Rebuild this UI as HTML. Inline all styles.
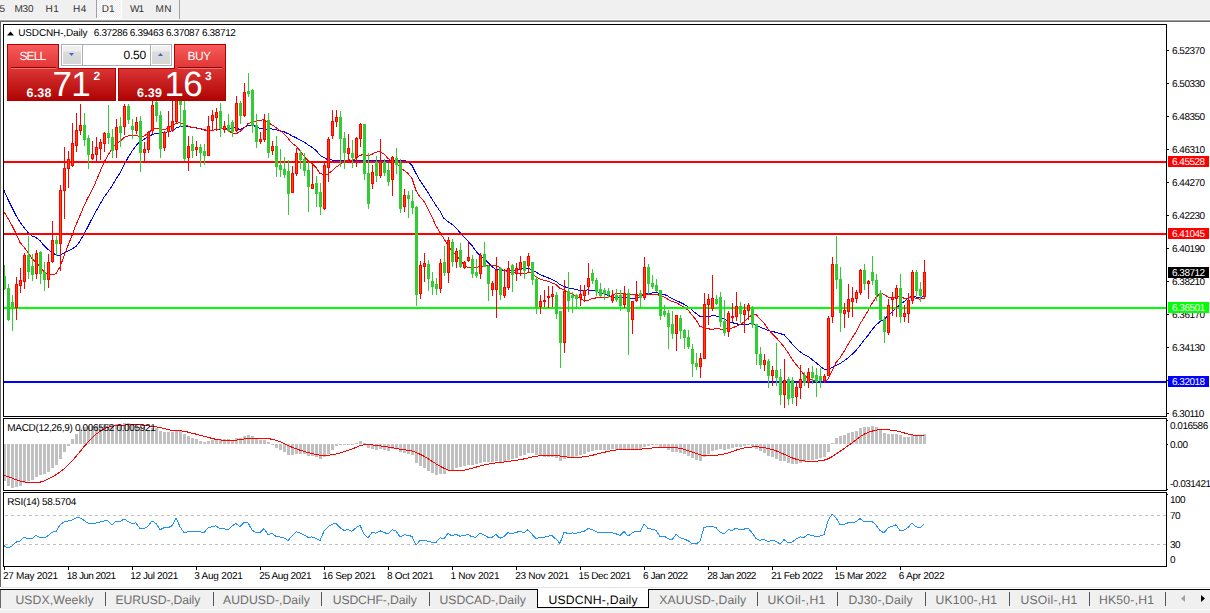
<!DOCTYPE html>
<html><head><meta charset="utf-8"><style>
html,body{margin:0;padding:0;}
body{width:1210px;height:613px;overflow:hidden;background:#fff;position:relative;font-family:"Liberation Sans",sans-serif;}
.t{position:absolute;white-space:nowrap;line-height:1;text-rendering:geometricPrecision;}
</style></head><body>
<div style="position:absolute;left:0px;top:0px;width:1210px;height:19px;background:#f0f0f0;"></div>
<div style="position:absolute;left:0px;top:19px;width:1210px;height:1px;background:#f7f7f7;"></div>
<div style="position:absolute;left:0px;top:20px;width:1210px;height:1px;background:#a0a0a0;"></div>
<div style="position:absolute;left:0px;top:21px;width:1210px;height:1px;background:#696969;"></div>
<div style="position:absolute;left:97px;top:0px;width:24px;height:18px;background:repeating-conic-gradient(#ffffff 0 25%, #ececec 0 50%) 0 0/2px 2px;"></div>
<div style="position:absolute;left:121px;top:0px;width:1px;height:19px;background:#ffffff;"></div>
<div style="position:absolute;left:97px;top:18px;width:25px;height:1px;background:#ffffff;"></div>
<div style="position:absolute;left:96px;top:0px;width:1px;height:18px;background:#a0a0a0;"></div>
<div style="position:absolute;left:179px;top:0px;width:1px;height:19px;background:#a0a0a0;"></div>
<div class="t" style="left:-0.5px;top:4.54px;font-size:10px;color:#333;letter-spacing:0px;">5</div>
<div class="t" style="left:14.5px;top:4.54px;font-size:10px;color:#333;letter-spacing:-0.25px;">M30</div>
<div class="t" style="left:45.5px;top:4.54px;font-size:10px;color:#333;letter-spacing:0.5px;">H1</div>
<div class="t" style="left:73px;top:4.54px;font-size:10px;color:#333;letter-spacing:0.5px;">H4</div>
<div class="t" style="left:101.8px;top:4.54px;font-size:10px;color:#333;letter-spacing:0.1px;">D1</div>
<div class="t" style="left:130px;top:4.54px;font-size:10px;color:#333;letter-spacing:-1px;">W1</div>
<div class="t" style="left:155.5px;top:4.54px;font-size:10px;color:#333;letter-spacing:0.5px;">MN</div>
<div style="position:absolute;left:0px;top:21px;width:1px;height:566px;background:#696969;"></div>
<svg style="position:absolute;left:0;top:0" width="1210" height="613" shape-rendering="crispEdges"><defs><clipPath id="cm"><rect x="4" y="25" width="1162" height="391"/></clipPath><clipPath id="cd"><rect x="4" y="419" width="1162" height="70"/></clipPath><clipPath id="cr"><rect x="4" y="493" width="1162" height="73"/></clipPath></defs><g clip-path="url(#cm)"><polyline points="4,190.5 8,199.5 12,207.5 16,215.5 20,222.3 24,227.5 28,232.5 32,235.9 36,237.5 40,240.5 44,245.7 48,249.5 52,252.3 56,255 60,255 64,253.3 68,251 72,249 76,246.5 80,241 84,234 88,226.55 92,218.69 96,211.12 100,204.36 104,197.36 108,191.74 112,185.98 116,178.98 120,173.21 124,165.26 128,157.64 132,151.31 136,145.69 140,141.36 144,139.4 148,136.63 152,134.74 156,133.47 160,133 164,132.6 168,131.9 172,130.74 176,128.17 180,126.46 184,126.29 188,126.58 192,127.14 196,127.76 200,128.59 204,129.97 208,130.4 212,130.2 216,129.7 220,129.19 224,128.68 228,128.3 232,128.3 236,127.45 240,129.98 244,127.31 248,125.45 252,125.4 256,126.36 260,128.5 264,129.26 268,128.98 272,128.98 276,129.74 280,130.79 284,131.83 288,133.64 292,135.88 296,137.69 300,139.93 304,141.93 308,144.79 312,147.36 316,150.31 320,155.21 324,157.6 328,159.83 332,160 336,160 340,160 344,160 348,160 352,160 356,160 360,160 364,160 368,160 372,160 376,160 380,160 384,160 388,160 392,160 396,160 400,160 404,160 408,162.07 412,165.31 416,173.55 420,180.6 424,186.55 428,192.55 432,199.12 436,205.36 440,211.31 444,218.36 448,221.55 452,224.31 456,228.07 460,232.4 464,237.21 468,241.26 472,245.64 476,251.26 480,255.6 484,258.36 488,262.55 492,266.6 496,269.6 500,269.6 504,270.64 508,270.88 512,270.69 516,269.83 520,268.6 524,268.93 528,268.17 532,270.02 536,272.17 540,274.55 544,276.17 548,277.79 552,279.55 556,281.45 560,284.64 564,286.36 568,287.98 572,288.64 576,289.36 580,290.5 584,290.31 588,289.88 592,290.45 596,291.26 600,292.55 604,294.02 608,295.17 612,297.02 616,297.98 620,297.93 624,297.55 628,298.07 632,298.31 636,298.36 640,297.6 644,294.02 648,293.64 652,292.98 656,292.64 660,293.45 664,294.4 668,296.12 672,298.74 676,300.4 680,302.26 684,304.26 688,306.79 692,310.07 696,313.45 700,316.26 704,316.21 708,316.5 712,315.88 716,315.98 720,317.21 724,318.88 728,321.07 732,322.64 736,323.6 740,324.69 744,324.45 748,324.02 752,323.93 756,324.88 760,327.21 764,328.64 768,330.45 772,331.6 776,332.26 780,333.6 784,334.64 788,339.12 792,343.79 796,348.02 800,351.64 804,354.55 808,356.45 812,359.5 816,362.6 820,366.12 824,369.12 828,369.5 832,367.55 836,365.4 840,363.45 844,360.88 848,357.98 852,354.31 856,350.6 860,345.5 864,340.21 868,335.5 872,329.88 876,324.98 880,321.74 884,319.45 888,315.79 892,312.21 896,307.98 900,304.88 904,301.69 908,298.07 912,295.88 916,297.12 920,297.88 924,295.98" fill="none" stroke="#0000ff" stroke-width="1"/>
<polyline points="4,212 8,218.5 12,225.5 16,233.5 20,242.38 24,247.03 28,252.7 32,258.39 36,262.24 40,267.01 44,271.58 48,274.16 52,274.34 56,273.86 60,266.86 64,256.07 68,245.57 72,235.5 76,224.79 80,215.5 84,206.07 88,197.5 92,190.43 96,181.43 100,171.64 104,162.43 108,155.07 112,148.43 116,143.93 120,141.36 124,137.57 128,135.86 132,135.79 136,135.57 140,136.5 144,136.14 148,133.1 152,129.86 156,128.43 160,129.27 164,129.4 168,128.51 172,125.63 176,123.3 180,122.7 184,124.05 188,126.08 192,127.53 196,128 200,128.5 204,129.65 208,130.57 212,130.38 216,129.47 220,128.85 224,128.34 228,130.28 232,132.94 236,133.83 240,131.64 244,127.79 248,123.71 252,122.14 256,121.36 260,120.21 264,119.79 268,122.43 272,124.86 276,127.57 280,130.64 284,133.79 288,138.21 292,143.21 296,145.93 300,150.71 304,156.21 308,160.57 312,163.64 316,167.5 320,173.64 324,174.57 328,174.07 332,170.86 336,167.14 340,164.57 344,161.64 348,159.86 352,160.14 356,158.64 360,155.36 364,154.43 368,155.79 372,154.29 376,152.07 380,151.79 384,154.14 388,158.43 392,161.29 396,163.14 400,167.14 404,170.5 408,173.43 412,178.36 416,190.5 420,197.07 424,201.36 428,208.93 432,216.86 436,225.93 440,232.43 444,238.93 448,244.86 452,251.79 456,254.86 460,259.93 464,264.5 468,268.07 472,266.57 476,267.29 480,266.71 484,265.86 488,265.64 492,265.29 496,265.79 500,267.36 504,270.71 508,271.21 512,272.86 516,273 520,273 524,273.93 528,272.71 532,273 536,276.64 540,279.14 544,280.36 548,281.29 552,283 556,284.36 560,288.29 564,289.93 568,291.79 572,293.86 576,296.43 580,298.14 584,300.57 588,300.5 592,298.64 596,297.93 600,297.57 604,297.36 608,297.36 612,296.07 616,293 620,294 624,293.5 628,294.5 632,294.71 636,294.79 640,295.29 644,294.5 648,294.71 652,294.36 656,294 660,295.57 664,297 668,299.21 672,301.64 676,302.36 680,305 684,306.86 688,310.07 692,314.93 696,319.86 700,326.36 704,327.86 708,328.79 712,329.36 716,328.5 720,329 724,329.43 728,328 732,328.07 736,326.36 740,324.64 744,322.07 748,317.93 752,314.93 756,314.57 760,318.86 764,323.21 768,328.71 772,333.5 776,337.5 780,341.93 784,346.71 788,352.57 792,359.07 796,364.36 800,369.29 804,374.79 808,378.21 812,379.93 816,381.14 820,382.57 824,382.64 828,378.93 832,370.86 836,362.64 840,357.79 844,351.5 848,344.5 852,338.14 856,331.93 860,323.93 864,317.57 868,310.71 872,303.5 876,297.36 880,293.29 884,294.21 888,297.14 892,298.43 896,296.71 900,297.14 904,298.14 908,298.29 912,296.86 916,298.29 920,299.14 924,298.5" fill="none" stroke="#ff0000" stroke-width="1"/>
<rect x="4" y="161" width="1162" height="2" fill="#ff0000"/>
<rect x="4" y="233" width="1162" height="2" fill="#ff0000"/>
<rect x="4" y="307" width="1162" height="2" fill="#00ff00"/>
<rect x="4" y="381" width="1162" height="2" fill="#0000ff"/>
<rect x="4" y="265" width="1" height="25" fill="#32cd32"/>
<rect x="3" y="276" width="3" height="13" fill="#32cd32"/>
<rect x="8" y="284" width="1" height="37" fill="#32cd32"/>
<rect x="7" y="288" width="3" height="32" fill="#32cd32"/>
<rect x="12" y="295" width="1" height="36" fill="#32cd32"/>
<rect x="11" y="302" width="3" height="5" fill="#32cd32"/>
<rect x="16" y="277" width="1" height="43" fill="#ff0000"/>
<rect x="15" y="284" width="3" height="24" fill="#ff0000"/>
<rect x="16" y="285" width="1" height="22" fill="#ff4500"/>
<rect x="20" y="268" width="1" height="25" fill="#ff0000"/>
<rect x="19" y="280" width="3" height="6" fill="#ff0000"/>
<rect x="20" y="281" width="1" height="4" fill="#ff4500"/>
<rect x="24" y="253" width="1" height="36" fill="#ff0000"/>
<rect x="23" y="255" width="3" height="27" fill="#ff0000"/>
<rect x="24" y="256" width="1" height="25" fill="#ff4500"/>
<rect x="28" y="236" width="1" height="43" fill="#32cd32"/>
<rect x="27" y="255" width="3" height="17" fill="#32cd32"/>
<rect x="32" y="254" width="1" height="27" fill="#32cd32"/>
<rect x="31" y="266" width="3" height="9" fill="#32cd32"/>
<rect x="36" y="250" width="1" height="29" fill="#ff0000"/>
<rect x="35" y="253" width="3" height="21" fill="#ff0000"/>
<rect x="36" y="254" width="1" height="19" fill="#ff4500"/>
<rect x="40" y="251" width="1" height="33" fill="#32cd32"/>
<rect x="39" y="252" width="3" height="22" fill="#32cd32"/>
<rect x="44" y="262" width="1" height="29" fill="#32cd32"/>
<rect x="43" y="272" width="3" height="8" fill="#32cd32"/>
<rect x="48" y="254" width="1" height="34" fill="#ff0000"/>
<rect x="47" y="262" width="3" height="18" fill="#ff0000"/>
<rect x="48" y="263" width="1" height="16" fill="#ff4500"/>
<rect x="52" y="221" width="1" height="42" fill="#ff0000"/>
<rect x="51" y="240" width="3" height="22" fill="#ff0000"/>
<rect x="52" y="241" width="1" height="20" fill="#ff4500"/>
<rect x="56" y="236" width="1" height="20" fill="#32cd32"/>
<rect x="55" y="240" width="3" height="4" fill="#32cd32"/>
<rect x="60" y="185" width="1" height="86" fill="#ff0000"/>
<rect x="59" y="190" width="3" height="54" fill="#ff0000"/>
<rect x="60" y="191" width="1" height="52" fill="#ff4500"/>
<rect x="64" y="147" width="1" height="72" fill="#ff0000"/>
<rect x="63" y="168" width="3" height="23" fill="#ff0000"/>
<rect x="64" y="169" width="1" height="21" fill="#ff4500"/>
<rect x="68" y="151" width="1" height="37" fill="#ff0000"/>
<rect x="67" y="159" width="3" height="10" fill="#ff0000"/>
<rect x="68" y="160" width="1" height="8" fill="#ff4500"/>
<rect x="72" y="123" width="1" height="44" fill="#ff0000"/>
<rect x="71" y="143" width="3" height="23" fill="#ff0000"/>
<rect x="72" y="144" width="1" height="21" fill="#ff4500"/>
<rect x="76" y="113" width="1" height="39" fill="#ff0000"/>
<rect x="75" y="130" width="3" height="16" fill="#ff0000"/>
<rect x="76" y="131" width="1" height="14" fill="#ff4500"/>
<rect x="80" y="104" width="1" height="31" fill="#ff0000"/>
<rect x="79" y="125" width="3" height="6" fill="#ff0000"/>
<rect x="80" y="126" width="1" height="4" fill="#ff4500"/>
<rect x="84" y="113" width="1" height="33" fill="#32cd32"/>
<rect x="83" y="125" width="3" height="15" fill="#32cd32"/>
<rect x="88" y="135" width="1" height="34" fill="#32cd32"/>
<rect x="87" y="138" width="3" height="17" fill="#32cd32"/>
<rect x="92" y="141" width="1" height="19" fill="#ff0000"/>
<rect x="91" y="154" width="3" height="5" fill="#ff0000"/>
<rect x="92" y="155" width="1" height="3" fill="#ff4500"/>
<rect x="96" y="137" width="1" height="25" fill="#ff0000"/>
<rect x="95" y="147" width="3" height="8" fill="#ff0000"/>
<rect x="96" y="148" width="1" height="6" fill="#ff4500"/>
<rect x="100" y="139" width="1" height="21" fill="#ff0000"/>
<rect x="99" y="142" width="3" height="7" fill="#ff0000"/>
<rect x="100" y="143" width="1" height="5" fill="#ff4500"/>
<rect x="104" y="132" width="1" height="20" fill="#ff0000"/>
<rect x="103" y="133" width="3" height="11" fill="#ff0000"/>
<rect x="104" y="134" width="1" height="9" fill="#ff4500"/>
<rect x="108" y="105" width="1" height="39" fill="#32cd32"/>
<rect x="107" y="133" width="3" height="5" fill="#32cd32"/>
<rect x="112" y="129" width="1" height="29" fill="#32cd32"/>
<rect x="111" y="137" width="3" height="14" fill="#32cd32"/>
<rect x="116" y="119" width="1" height="39" fill="#ff0000"/>
<rect x="115" y="127" width="3" height="23" fill="#ff0000"/>
<rect x="116" y="128" width="1" height="21" fill="#ff4500"/>
<rect x="120" y="117" width="1" height="30" fill="#32cd32"/>
<rect x="119" y="126" width="3" height="7" fill="#32cd32"/>
<rect x="124" y="104" width="1" height="31" fill="#ff0000"/>
<rect x="123" y="106" width="3" height="21" fill="#ff0000"/>
<rect x="124" y="107" width="1" height="19" fill="#ff4500"/>
<rect x="128" y="104" width="1" height="20" fill="#32cd32"/>
<rect x="127" y="106" width="3" height="14" fill="#32cd32"/>
<rect x="132" y="119" width="1" height="20" fill="#32cd32"/>
<rect x="131" y="126" width="3" height="4" fill="#32cd32"/>
<rect x="136" y="117" width="1" height="17" fill="#ff0000"/>
<rect x="135" y="122" width="3" height="9" fill="#ff0000"/>
<rect x="136" y="123" width="1" height="7" fill="#ff4500"/>
<rect x="140" y="116" width="1" height="56" fill="#32cd32"/>
<rect x="139" y="121" width="3" height="32" fill="#32cd32"/>
<rect x="144" y="142" width="1" height="19" fill="#ff0000"/>
<rect x="143" y="149" width="3" height="4" fill="#ff0000"/>
<rect x="144" y="150" width="1" height="2" fill="#ff4500"/>
<rect x="148" y="131" width="1" height="22" fill="#ff0000"/>
<rect x="147" y="132" width="3" height="18" fill="#ff0000"/>
<rect x="148" y="133" width="1" height="16" fill="#ff4500"/>
<rect x="152" y="100" width="1" height="34" fill="#ff0000"/>
<rect x="151" y="105" width="3" height="26" fill="#ff0000"/>
<rect x="152" y="106" width="1" height="24" fill="#ff4500"/>
<rect x="156" y="98" width="1" height="24" fill="#32cd32"/>
<rect x="155" y="102" width="3" height="14" fill="#32cd32"/>
<rect x="160" y="111" width="1" height="47" fill="#32cd32"/>
<rect x="159" y="115" width="3" height="34" fill="#32cd32"/>
<rect x="164" y="131" width="1" height="20" fill="#ff0000"/>
<rect x="163" y="132" width="3" height="16" fill="#ff0000"/>
<rect x="164" y="133" width="1" height="14" fill="#ff4500"/>
<rect x="168" y="111" width="1" height="26" fill="#ff0000"/>
<rect x="167" y="126" width="3" height="6" fill="#ff0000"/>
<rect x="168" y="127" width="1" height="4" fill="#ff4500"/>
<rect x="172" y="100" width="1" height="32" fill="#ff0000"/>
<rect x="171" y="121" width="3" height="10" fill="#ff0000"/>
<rect x="172" y="122" width="1" height="8" fill="#ff4500"/>
<rect x="176" y="92" width="1" height="31" fill="#ff0000"/>
<rect x="175" y="94" width="3" height="28" fill="#ff0000"/>
<rect x="176" y="95" width="1" height="26" fill="#ff4500"/>
<rect x="180" y="90" width="1" height="37" fill="#32cd32"/>
<rect x="179" y="94" width="3" height="11" fill="#32cd32"/>
<rect x="184" y="100" width="1" height="61" fill="#32cd32"/>
<rect x="183" y="110" width="3" height="49" fill="#32cd32"/>
<rect x="188" y="136" width="1" height="35" fill="#ff0000"/>
<rect x="187" y="146" width="3" height="12" fill="#ff0000"/>
<rect x="188" y="147" width="1" height="10" fill="#ff4500"/>
<rect x="192" y="136" width="1" height="22" fill="#32cd32"/>
<rect x="191" y="144" width="3" height="7" fill="#32cd32"/>
<rect x="196" y="141" width="1" height="15" fill="#ff0000"/>
<rect x="195" y="147" width="3" height="3" fill="#ff0000"/>
<rect x="196" y="148" width="1" height="1" fill="#ff4500"/>
<rect x="200" y="144" width="1" height="23" fill="#32cd32"/>
<rect x="199" y="147" width="3" height="6" fill="#32cd32"/>
<rect x="204" y="144" width="1" height="21" fill="#32cd32"/>
<rect x="203" y="151" width="3" height="5" fill="#32cd32"/>
<rect x="208" y="116" width="1" height="40" fill="#ff0000"/>
<rect x="207" y="126" width="3" height="30" fill="#ff0000"/>
<rect x="208" y="127" width="1" height="28" fill="#ff4500"/>
<rect x="212" y="110" width="1" height="21" fill="#ff0000"/>
<rect x="211" y="115" width="3" height="6" fill="#ff0000"/>
<rect x="212" y="116" width="1" height="4" fill="#ff4500"/>
<rect x="216" y="108" width="1" height="23" fill="#ff0000"/>
<rect x="215" y="112" width="3" height="6" fill="#ff0000"/>
<rect x="216" y="113" width="1" height="4" fill="#ff4500"/>
<rect x="220" y="103" width="1" height="34" fill="#32cd32"/>
<rect x="219" y="111" width="3" height="18" fill="#32cd32"/>
<rect x="224" y="121" width="1" height="12" fill="#ff0000"/>
<rect x="223" y="126" width="3" height="4" fill="#ff0000"/>
<rect x="224" y="127" width="1" height="2" fill="#ff4500"/>
<rect x="228" y="114" width="1" height="18" fill="#32cd32"/>
<rect x="227" y="125" width="3" height="6" fill="#32cd32"/>
<rect x="232" y="120" width="1" height="17" fill="#32cd32"/>
<rect x="231" y="122" width="3" height="10" fill="#32cd32"/>
<rect x="236" y="96" width="1" height="36" fill="#ff0000"/>
<rect x="235" y="103" width="3" height="28" fill="#ff0000"/>
<rect x="236" y="104" width="1" height="26" fill="#ff4500"/>
<rect x="240" y="101" width="1" height="23" fill="#32cd32"/>
<rect x="239" y="103" width="3" height="13" fill="#32cd32"/>
<rect x="244" y="83" width="1" height="34" fill="#ff0000"/>
<rect x="243" y="92" width="3" height="24" fill="#ff0000"/>
<rect x="244" y="93" width="1" height="22" fill="#ff4500"/>
<rect x="248" y="73" width="1" height="24" fill="#32cd32"/>
<rect x="247" y="91" width="3" height="3" fill="#32cd32"/>
<rect x="252" y="89" width="1" height="44" fill="#32cd32"/>
<rect x="251" y="90" width="3" height="36" fill="#32cd32"/>
<rect x="256" y="114" width="1" height="34" fill="#32cd32"/>
<rect x="255" y="125" width="3" height="17" fill="#32cd32"/>
<rect x="260" y="132" width="1" height="12" fill="#ff0000"/>
<rect x="259" y="139" width="3" height="3" fill="#ff0000"/>
<rect x="260" y="140" width="1" height="1" fill="#ff4500"/>
<rect x="264" y="114" width="1" height="28" fill="#ff0000"/>
<rect x="263" y="120" width="3" height="20" fill="#ff0000"/>
<rect x="264" y="121" width="1" height="18" fill="#ff4500"/>
<rect x="268" y="113" width="1" height="45" fill="#32cd32"/>
<rect x="267" y="120" width="3" height="33" fill="#32cd32"/>
<rect x="272" y="141" width="1" height="14" fill="#ff0000"/>
<rect x="271" y="146" width="3" height="5" fill="#ff0000"/>
<rect x="272" y="147" width="1" height="3" fill="#ff4500"/>
<rect x="276" y="136" width="1" height="41" fill="#32cd32"/>
<rect x="275" y="146" width="3" height="21" fill="#32cd32"/>
<rect x="280" y="149" width="1" height="28" fill="#32cd32"/>
<rect x="279" y="165" width="3" height="5" fill="#32cd32"/>
<rect x="284" y="157" width="1" height="21" fill="#32cd32"/>
<rect x="283" y="169" width="3" height="6" fill="#32cd32"/>
<rect x="288" y="160" width="1" height="55" fill="#32cd32"/>
<rect x="287" y="171" width="3" height="23" fill="#32cd32"/>
<rect x="292" y="166" width="1" height="27" fill="#ff0000"/>
<rect x="291" y="173" width="3" height="20" fill="#ff0000"/>
<rect x="292" y="174" width="1" height="18" fill="#ff4500"/>
<rect x="296" y="148" width="1" height="28" fill="#ff0000"/>
<rect x="295" y="153" width="3" height="21" fill="#ff0000"/>
<rect x="296" y="154" width="1" height="19" fill="#ff4500"/>
<rect x="300" y="150" width="1" height="19" fill="#32cd32"/>
<rect x="299" y="153" width="3" height="7" fill="#32cd32"/>
<rect x="304" y="153" width="1" height="23" fill="#32cd32"/>
<rect x="303" y="159" width="3" height="12" fill="#32cd32"/>
<rect x="308" y="162" width="1" height="50" fill="#32cd32"/>
<rect x="307" y="170" width="3" height="17" fill="#32cd32"/>
<rect x="312" y="165" width="1" height="24" fill="#ff0000"/>
<rect x="311" y="184" width="3" height="5" fill="#ff0000"/>
<rect x="312" y="185" width="1" height="3" fill="#ff4500"/>
<rect x="316" y="176" width="1" height="31" fill="#32cd32"/>
<rect x="315" y="183" width="3" height="11" fill="#32cd32"/>
<rect x="320" y="183" width="1" height="32" fill="#32cd32"/>
<rect x="319" y="192" width="3" height="15" fill="#32cd32"/>
<rect x="324" y="161" width="1" height="49" fill="#ff0000"/>
<rect x="323" y="165" width="3" height="44" fill="#ff0000"/>
<rect x="324" y="166" width="1" height="42" fill="#ff4500"/>
<rect x="328" y="137" width="1" height="45" fill="#ff0000"/>
<rect x="327" y="139" width="3" height="29" fill="#ff0000"/>
<rect x="328" y="140" width="1" height="27" fill="#ff4500"/>
<rect x="332" y="110" width="1" height="29" fill="#ff0000"/>
<rect x="331" y="121" width="3" height="15" fill="#ff0000"/>
<rect x="332" y="122" width="1" height="13" fill="#ff4500"/>
<rect x="336" y="110" width="1" height="17" fill="#ff0000"/>
<rect x="335" y="117" width="3" height="5" fill="#ff0000"/>
<rect x="336" y="118" width="1" height="3" fill="#ff4500"/>
<rect x="340" y="111" width="1" height="56" fill="#32cd32"/>
<rect x="339" y="117" width="3" height="22" fill="#32cd32"/>
<rect x="344" y="132" width="1" height="37" fill="#32cd32"/>
<rect x="343" y="138" width="3" height="15" fill="#32cd32"/>
<rect x="348" y="134" width="1" height="28" fill="#ff0000"/>
<rect x="347" y="148" width="3" height="6" fill="#ff0000"/>
<rect x="348" y="149" width="1" height="4" fill="#ff4500"/>
<rect x="352" y="140" width="1" height="28" fill="#32cd32"/>
<rect x="351" y="153" width="3" height="5" fill="#32cd32"/>
<rect x="356" y="137" width="1" height="30" fill="#ff0000"/>
<rect x="355" y="138" width="3" height="20" fill="#ff0000"/>
<rect x="356" y="139" width="1" height="18" fill="#ff4500"/>
<rect x="360" y="123" width="1" height="24" fill="#ff0000"/>
<rect x="359" y="124" width="3" height="15" fill="#ff0000"/>
<rect x="360" y="125" width="1" height="13" fill="#ff4500"/>
<rect x="364" y="124" width="1" height="56" fill="#32cd32"/>
<rect x="363" y="124" width="3" height="50" fill="#32cd32"/>
<rect x="368" y="153" width="1" height="56" fill="#32cd32"/>
<rect x="367" y="173" width="3" height="31" fill="#32cd32"/>
<rect x="372" y="165" width="1" height="24" fill="#ff0000"/>
<rect x="371" y="172" width="3" height="12" fill="#ff0000"/>
<rect x="372" y="173" width="1" height="10" fill="#ff4500"/>
<rect x="376" y="156" width="1" height="26" fill="#32cd32"/>
<rect x="375" y="162" width="3" height="14" fill="#32cd32"/>
<rect x="380" y="139" width="1" height="39" fill="#ff0000"/>
<rect x="379" y="161" width="3" height="15" fill="#ff0000"/>
<rect x="380" y="162" width="1" height="13" fill="#ff4500"/>
<rect x="384" y="159" width="1" height="17" fill="#32cd32"/>
<rect x="383" y="162" width="3" height="11" fill="#32cd32"/>
<rect x="388" y="163" width="1" height="23" fill="#32cd32"/>
<rect x="387" y="170" width="3" height="12" fill="#32cd32"/>
<rect x="392" y="156" width="1" height="40" fill="#ff0000"/>
<rect x="391" y="157" width="3" height="23" fill="#ff0000"/>
<rect x="392" y="158" width="1" height="21" fill="#ff4500"/>
<rect x="396" y="148" width="1" height="26" fill="#32cd32"/>
<rect x="395" y="158" width="3" height="7" fill="#32cd32"/>
<rect x="400" y="159" width="1" height="54" fill="#32cd32"/>
<rect x="399" y="163" width="3" height="46" fill="#32cd32"/>
<rect x="404" y="189" width="1" height="23" fill="#ff0000"/>
<rect x="403" y="195" width="3" height="12" fill="#ff0000"/>
<rect x="404" y="196" width="1" height="10" fill="#ff4500"/>
<rect x="408" y="191" width="1" height="27" fill="#32cd32"/>
<rect x="407" y="195" width="3" height="4" fill="#32cd32"/>
<rect x="412" y="190" width="1" height="24" fill="#32cd32"/>
<rect x="411" y="201" width="3" height="7" fill="#32cd32"/>
<rect x="416" y="206" width="1" height="100" fill="#32cd32"/>
<rect x="415" y="207" width="3" height="88" fill="#32cd32"/>
<rect x="420" y="261" width="1" height="38" fill="#ff0000"/>
<rect x="419" y="265" width="3" height="29" fill="#ff0000"/>
<rect x="420" y="266" width="1" height="27" fill="#ff4500"/>
<rect x="424" y="253" width="1" height="29" fill="#ff0000"/>
<rect x="423" y="263" width="3" height="4" fill="#ff0000"/>
<rect x="424" y="264" width="1" height="2" fill="#ff4500"/>
<rect x="428" y="260" width="1" height="31" fill="#32cd32"/>
<rect x="427" y="264" width="3" height="15" fill="#32cd32"/>
<rect x="432" y="272" width="1" height="23" fill="#32cd32"/>
<rect x="431" y="281" width="3" height="6" fill="#32cd32"/>
<rect x="436" y="278" width="1" height="17" fill="#32cd32"/>
<rect x="435" y="284" width="3" height="5" fill="#32cd32"/>
<rect x="440" y="259" width="1" height="34" fill="#ff0000"/>
<rect x="439" y="263" width="3" height="26" fill="#ff0000"/>
<rect x="440" y="264" width="1" height="24" fill="#ff4500"/>
<rect x="444" y="246" width="1" height="30" fill="#32cd32"/>
<rect x="443" y="262" width="3" height="11" fill="#32cd32"/>
<rect x="448" y="237" width="1" height="46" fill="#ff0000"/>
<rect x="447" y="240" width="3" height="33" fill="#ff0000"/>
<rect x="448" y="241" width="1" height="31" fill="#ff4500"/>
<rect x="452" y="239" width="1" height="28" fill="#32cd32"/>
<rect x="451" y="242" width="3" height="20" fill="#32cd32"/>
<rect x="456" y="248" width="1" height="20" fill="#ff0000"/>
<rect x="455" y="251" width="3" height="11" fill="#ff0000"/>
<rect x="456" y="252" width="1" height="9" fill="#ff4500"/>
<rect x="460" y="243" width="1" height="25" fill="#32cd32"/>
<rect x="459" y="250" width="3" height="17" fill="#32cd32"/>
<rect x="464" y="261" width="1" height="8" fill="#ff0000"/>
<rect x="463" y="262" width="3" height="6" fill="#ff0000"/>
<rect x="464" y="263" width="1" height="4" fill="#ff4500"/>
<rect x="468" y="242" width="1" height="20" fill="#ff0000"/>
<rect x="467" y="257" width="3" height="4" fill="#ff0000"/>
<rect x="468" y="258" width="1" height="2" fill="#ff4500"/>
<rect x="472" y="255" width="1" height="23" fill="#32cd32"/>
<rect x="471" y="259" width="3" height="15" fill="#32cd32"/>
<rect x="476" y="259" width="1" height="19" fill="#32cd32"/>
<rect x="475" y="272" width="3" height="4" fill="#32cd32"/>
<rect x="480" y="253" width="1" height="26" fill="#ff0000"/>
<rect x="479" y="255" width="3" height="19" fill="#ff0000"/>
<rect x="480" y="256" width="1" height="17" fill="#ff4500"/>
<rect x="484" y="242" width="1" height="23" fill="#32cd32"/>
<rect x="483" y="254" width="3" height="13" fill="#32cd32"/>
<rect x="488" y="265" width="1" height="36" fill="#32cd32"/>
<rect x="487" y="266" width="3" height="18" fill="#32cd32"/>
<rect x="492" y="281" width="1" height="15" fill="#ff0000"/>
<rect x="491" y="283" width="3" height="7" fill="#ff0000"/>
<rect x="492" y="284" width="1" height="5" fill="#ff4500"/>
<rect x="496" y="257" width="1" height="61" fill="#ff0000"/>
<rect x="495" y="270" width="3" height="20" fill="#ff0000"/>
<rect x="496" y="271" width="1" height="18" fill="#ff4500"/>
<rect x="500" y="267" width="1" height="33" fill="#32cd32"/>
<rect x="499" y="268" width="3" height="27" fill="#32cd32"/>
<rect x="504" y="269" width="1" height="29" fill="#ff0000"/>
<rect x="503" y="287" width="3" height="9" fill="#ff0000"/>
<rect x="504" y="288" width="1" height="7" fill="#ff4500"/>
<rect x="508" y="261" width="1" height="29" fill="#ff0000"/>
<rect x="507" y="268" width="3" height="20" fill="#ff0000"/>
<rect x="508" y="269" width="1" height="18" fill="#ff4500"/>
<rect x="512" y="264" width="1" height="28" fill="#32cd32"/>
<rect x="511" y="265" width="3" height="10" fill="#32cd32"/>
<rect x="516" y="263" width="1" height="18" fill="#ff0000"/>
<rect x="515" y="268" width="3" height="6" fill="#ff0000"/>
<rect x="516" y="269" width="1" height="4" fill="#ff4500"/>
<rect x="520" y="256" width="1" height="20" fill="#ff0000"/>
<rect x="519" y="262" width="3" height="8" fill="#ff0000"/>
<rect x="520" y="263" width="1" height="6" fill="#ff4500"/>
<rect x="524" y="261" width="1" height="18" fill="#32cd32"/>
<rect x="523" y="261" width="3" height="10" fill="#32cd32"/>
<rect x="528" y="253" width="1" height="20" fill="#ff0000"/>
<rect x="527" y="256" width="3" height="10" fill="#ff0000"/>
<rect x="528" y="257" width="1" height="8" fill="#ff4500"/>
<rect x="532" y="262" width="1" height="23" fill="#32cd32"/>
<rect x="531" y="262" width="3" height="18" fill="#32cd32"/>
<rect x="536" y="276" width="1" height="38" fill="#32cd32"/>
<rect x="535" y="279" width="3" height="28" fill="#32cd32"/>
<rect x="540" y="295" width="1" height="19" fill="#ff0000"/>
<rect x="539" y="301" width="3" height="6" fill="#ff0000"/>
<rect x="540" y="302" width="1" height="4" fill="#ff4500"/>
<rect x="544" y="290" width="1" height="17" fill="#ff0000"/>
<rect x="543" y="300" width="3" height="2" fill="#ff0000"/>
<rect x="548" y="286" width="1" height="22" fill="#ff0000"/>
<rect x="547" y="296" width="3" height="2" fill="#ff0000"/>
<rect x="552" y="286" width="1" height="21" fill="#ff0000"/>
<rect x="551" y="294" width="3" height="3" fill="#ff0000"/>
<rect x="552" y="295" width="1" height="1" fill="#ff4500"/>
<rect x="556" y="292" width="1" height="27" fill="#32cd32"/>
<rect x="555" y="295" width="3" height="19" fill="#32cd32"/>
<rect x="560" y="311" width="1" height="57" fill="#32cd32"/>
<rect x="559" y="311" width="3" height="32" fill="#32cd32"/>
<rect x="564" y="280" width="1" height="73" fill="#ff0000"/>
<rect x="563" y="291" width="3" height="52" fill="#ff0000"/>
<rect x="564" y="292" width="1" height="50" fill="#ff4500"/>
<rect x="568" y="272" width="1" height="40" fill="#32cd32"/>
<rect x="567" y="291" width="3" height="10" fill="#32cd32"/>
<rect x="572" y="292" width="1" height="21" fill="#32cd32"/>
<rect x="571" y="295" width="3" height="3" fill="#32cd32"/>
<rect x="576" y="294" width="1" height="15" fill="#32cd32"/>
<rect x="575" y="295" width="3" height="4" fill="#32cd32"/>
<rect x="580" y="285" width="1" height="21" fill="#ff0000"/>
<rect x="579" y="294" width="3" height="4" fill="#ff0000"/>
<rect x="580" y="295" width="1" height="2" fill="#ff4500"/>
<rect x="584" y="285" width="1" height="17" fill="#ff0000"/>
<rect x="583" y="290" width="3" height="6" fill="#ff0000"/>
<rect x="584" y="291" width="1" height="4" fill="#ff4500"/>
<rect x="588" y="263" width="1" height="32" fill="#ff0000"/>
<rect x="587" y="278" width="3" height="9" fill="#ff0000"/>
<rect x="588" y="279" width="1" height="7" fill="#ff4500"/>
<rect x="592" y="269" width="1" height="15" fill="#32cd32"/>
<rect x="591" y="273" width="3" height="8" fill="#32cd32"/>
<rect x="596" y="278" width="1" height="18" fill="#32cd32"/>
<rect x="595" y="280" width="3" height="12" fill="#32cd32"/>
<rect x="600" y="283" width="1" height="14" fill="#32cd32"/>
<rect x="599" y="289" width="3" height="7" fill="#32cd32"/>
<rect x="604" y="288" width="1" height="12" fill="#32cd32"/>
<rect x="603" y="290" width="3" height="4" fill="#32cd32"/>
<rect x="608" y="288" width="1" height="10" fill="#32cd32"/>
<rect x="607" y="291" width="3" height="4" fill="#32cd32"/>
<rect x="612" y="290" width="1" height="13" fill="#ff0000"/>
<rect x="611" y="295" width="3" height="6" fill="#ff0000"/>
<rect x="612" y="296" width="1" height="4" fill="#ff4500"/>
<rect x="616" y="289" width="1" height="13" fill="#32cd32"/>
<rect x="615" y="295" width="3" height="5" fill="#32cd32"/>
<rect x="620" y="290" width="1" height="21" fill="#32cd32"/>
<rect x="619" y="295" width="3" height="11" fill="#32cd32"/>
<rect x="624" y="286" width="1" height="22" fill="#ff0000"/>
<rect x="623" y="293" width="3" height="12" fill="#ff0000"/>
<rect x="624" y="294" width="1" height="10" fill="#ff4500"/>
<rect x="628" y="289" width="1" height="66" fill="#32cd32"/>
<rect x="627" y="293" width="3" height="19" fill="#32cd32"/>
<rect x="632" y="301" width="1" height="33" fill="#ff0000"/>
<rect x="631" y="301" width="3" height="19" fill="#ff0000"/>
<rect x="632" y="302" width="1" height="17" fill="#ff4500"/>
<rect x="636" y="281" width="1" height="21" fill="#ff0000"/>
<rect x="635" y="295" width="3" height="6" fill="#ff0000"/>
<rect x="636" y="296" width="1" height="4" fill="#ff4500"/>
<rect x="640" y="290" width="1" height="18" fill="#32cd32"/>
<rect x="639" y="293" width="3" height="5" fill="#32cd32"/>
<rect x="644" y="257" width="1" height="43" fill="#ff0000"/>
<rect x="643" y="267" width="3" height="31" fill="#ff0000"/>
<rect x="644" y="268" width="1" height="29" fill="#ff4500"/>
<rect x="648" y="264" width="1" height="30" fill="#32cd32"/>
<rect x="647" y="267" width="3" height="17" fill="#32cd32"/>
<rect x="652" y="275" width="1" height="14" fill="#32cd32"/>
<rect x="651" y="283" width="3" height="4" fill="#32cd32"/>
<rect x="656" y="279" width="1" height="13" fill="#32cd32"/>
<rect x="655" y="285" width="3" height="6" fill="#32cd32"/>
<rect x="660" y="290" width="1" height="30" fill="#32cd32"/>
<rect x="659" y="290" width="3" height="26" fill="#32cd32"/>
<rect x="664" y="305" width="1" height="12" fill="#32cd32"/>
<rect x="663" y="311" width="3" height="4" fill="#32cd32"/>
<rect x="668" y="310" width="1" height="39" fill="#32cd32"/>
<rect x="667" y="313" width="3" height="14" fill="#32cd32"/>
<rect x="672" y="311" width="1" height="28" fill="#32cd32"/>
<rect x="671" y="324" width="3" height="10" fill="#32cd32"/>
<rect x="676" y="315" width="1" height="36" fill="#ff0000"/>
<rect x="675" y="315" width="3" height="19" fill="#ff0000"/>
<rect x="676" y="316" width="1" height="17" fill="#ff4500"/>
<rect x="680" y="315" width="1" height="24" fill="#32cd32"/>
<rect x="679" y="318" width="3" height="13" fill="#32cd32"/>
<rect x="684" y="329" width="1" height="20" fill="#32cd32"/>
<rect x="683" y="330" width="3" height="8" fill="#32cd32"/>
<rect x="688" y="330" width="1" height="19" fill="#32cd32"/>
<rect x="687" y="337" width="3" height="10" fill="#32cd32"/>
<rect x="692" y="344" width="1" height="33" fill="#32cd32"/>
<rect x="691" y="349" width="3" height="15" fill="#32cd32"/>
<rect x="696" y="353" width="1" height="17" fill="#32cd32"/>
<rect x="695" y="363" width="3" height="4" fill="#32cd32"/>
<rect x="700" y="353" width="1" height="25" fill="#ff0000"/>
<rect x="699" y="358" width="3" height="9" fill="#ff0000"/>
<rect x="700" y="359" width="1" height="7" fill="#ff4500"/>
<rect x="704" y="293" width="1" height="66" fill="#ff0000"/>
<rect x="703" y="304" width="3" height="55" fill="#ff0000"/>
<rect x="704" y="305" width="1" height="53" fill="#ff4500"/>
<rect x="708" y="294" width="1" height="31" fill="#ff0000"/>
<rect x="707" y="299" width="3" height="6" fill="#ff0000"/>
<rect x="708" y="300" width="1" height="4" fill="#ff4500"/>
<rect x="712" y="275" width="1" height="36" fill="#ff0000"/>
<rect x="711" y="298" width="3" height="11" fill="#ff0000"/>
<rect x="712" y="299" width="1" height="9" fill="#ff4500"/>
<rect x="716" y="295" width="1" height="10" fill="#32cd32"/>
<rect x="715" y="299" width="3" height="5" fill="#32cd32"/>
<rect x="720" y="292" width="1" height="35" fill="#32cd32"/>
<rect x="719" y="297" width="3" height="25" fill="#32cd32"/>
<rect x="724" y="300" width="1" height="36" fill="#32cd32"/>
<rect x="723" y="321" width="3" height="12" fill="#32cd32"/>
<rect x="728" y="311" width="1" height="26" fill="#ff0000"/>
<rect x="727" y="313" width="3" height="19" fill="#ff0000"/>
<rect x="728" y="314" width="1" height="17" fill="#ff4500"/>
<rect x="732" y="303" width="1" height="19" fill="#ff0000"/>
<rect x="731" y="316" width="3" height="2" fill="#ff0000"/>
<rect x="736" y="292" width="1" height="29" fill="#ff0000"/>
<rect x="735" y="306" width="3" height="11" fill="#ff0000"/>
<rect x="736" y="307" width="1" height="9" fill="#ff4500"/>
<rect x="740" y="302" width="1" height="21" fill="#32cd32"/>
<rect x="739" y="306" width="3" height="8" fill="#32cd32"/>
<rect x="744" y="304" width="1" height="29" fill="#ff0000"/>
<rect x="743" y="310" width="3" height="5" fill="#ff0000"/>
<rect x="744" y="311" width="1" height="3" fill="#ff4500"/>
<rect x="748" y="303" width="1" height="17" fill="#ff0000"/>
<rect x="747" y="305" width="3" height="6" fill="#ff0000"/>
<rect x="748" y="306" width="1" height="4" fill="#ff4500"/>
<rect x="752" y="306" width="1" height="22" fill="#32cd32"/>
<rect x="751" y="308" width="3" height="17" fill="#32cd32"/>
<rect x="756" y="324" width="1" height="41" fill="#32cd32"/>
<rect x="755" y="324" width="3" height="30" fill="#32cd32"/>
<rect x="760" y="347" width="1" height="22" fill="#32cd32"/>
<rect x="759" y="354" width="3" height="11" fill="#32cd32"/>
<rect x="764" y="354" width="1" height="17" fill="#ff0000"/>
<rect x="763" y="360" width="3" height="5" fill="#ff0000"/>
<rect x="764" y="361" width="1" height="3" fill="#ff4500"/>
<rect x="768" y="359" width="1" height="29" fill="#32cd32"/>
<rect x="767" y="361" width="3" height="15" fill="#32cd32"/>
<rect x="772" y="366" width="1" height="20" fill="#ff0000"/>
<rect x="771" y="370" width="3" height="6" fill="#ff0000"/>
<rect x="772" y="371" width="1" height="4" fill="#ff4500"/>
<rect x="776" y="343" width="1" height="43" fill="#32cd32"/>
<rect x="775" y="370" width="3" height="8" fill="#32cd32"/>
<rect x="780" y="369" width="1" height="36" fill="#32cd32"/>
<rect x="779" y="377" width="3" height="18" fill="#32cd32"/>
<rect x="784" y="359" width="1" height="49" fill="#ff0000"/>
<rect x="783" y="380" width="3" height="15" fill="#ff0000"/>
<rect x="784" y="381" width="1" height="13" fill="#ff4500"/>
<rect x="788" y="377" width="1" height="28" fill="#32cd32"/>
<rect x="787" y="379" width="3" height="20" fill="#32cd32"/>
<rect x="792" y="377" width="1" height="27" fill="#32cd32"/>
<rect x="791" y="380" width="3" height="18" fill="#32cd32"/>
<rect x="796" y="382" width="1" height="24" fill="#ff0000"/>
<rect x="795" y="387" width="3" height="10" fill="#ff0000"/>
<rect x="796" y="388" width="1" height="8" fill="#ff4500"/>
<rect x="800" y="365" width="1" height="34" fill="#ff0000"/>
<rect x="799" y="379" width="3" height="9" fill="#ff0000"/>
<rect x="800" y="380" width="1" height="7" fill="#ff4500"/>
<rect x="804" y="372" width="1" height="14" fill="#32cd32"/>
<rect x="803" y="375" width="3" height="8" fill="#32cd32"/>
<rect x="808" y="368" width="1" height="20" fill="#ff0000"/>
<rect x="807" y="372" width="3" height="11" fill="#ff0000"/>
<rect x="808" y="373" width="1" height="9" fill="#ff4500"/>
<rect x="812" y="366" width="1" height="18" fill="#32cd32"/>
<rect x="811" y="372" width="3" height="6" fill="#32cd32"/>
<rect x="816" y="368" width="1" height="29" fill="#32cd32"/>
<rect x="815" y="375" width="3" height="7" fill="#32cd32"/>
<rect x="820" y="368" width="1" height="20" fill="#32cd32"/>
<rect x="819" y="376" width="3" height="5" fill="#32cd32"/>
<rect x="824" y="374" width="1" height="9" fill="#ff0000"/>
<rect x="823" y="376" width="3" height="5" fill="#ff0000"/>
<rect x="824" y="377" width="1" height="3" fill="#ff4500"/>
<rect x="828" y="316" width="1" height="60" fill="#ff0000"/>
<rect x="827" y="318" width="3" height="58" fill="#ff0000"/>
<rect x="828" y="319" width="1" height="56" fill="#ff4500"/>
<rect x="832" y="257" width="1" height="66" fill="#ff0000"/>
<rect x="831" y="264" width="3" height="53" fill="#ff0000"/>
<rect x="832" y="265" width="1" height="51" fill="#ff4500"/>
<rect x="836" y="236" width="1" height="53" fill="#32cd32"/>
<rect x="835" y="264" width="3" height="16" fill="#32cd32"/>
<rect x="840" y="267" width="1" height="65" fill="#32cd32"/>
<rect x="839" y="279" width="3" height="34" fill="#32cd32"/>
<rect x="844" y="303" width="1" height="25" fill="#ff0000"/>
<rect x="843" y="310" width="3" height="4" fill="#ff0000"/>
<rect x="844" y="311" width="1" height="2" fill="#ff4500"/>
<rect x="848" y="284" width="1" height="34" fill="#ff0000"/>
<rect x="847" y="299" width="3" height="13" fill="#ff0000"/>
<rect x="848" y="300" width="1" height="11" fill="#ff4500"/>
<rect x="852" y="287" width="1" height="30" fill="#ff0000"/>
<rect x="851" y="298" width="3" height="4" fill="#ff0000"/>
<rect x="852" y="299" width="1" height="2" fill="#ff4500"/>
<rect x="856" y="290" width="1" height="13" fill="#ff0000"/>
<rect x="855" y="292" width="3" height="7" fill="#ff0000"/>
<rect x="856" y="293" width="1" height="5" fill="#ff4500"/>
<rect x="860" y="269" width="1" height="26" fill="#ff0000"/>
<rect x="859" y="270" width="3" height="23" fill="#ff0000"/>
<rect x="860" y="271" width="1" height="21" fill="#ff4500"/>
<rect x="864" y="264" width="1" height="26" fill="#32cd32"/>
<rect x="863" y="270" width="3" height="14" fill="#32cd32"/>
<rect x="868" y="280" width="1" height="19" fill="#ff0000"/>
<rect x="867" y="281" width="3" height="3" fill="#ff0000"/>
<rect x="868" y="282" width="1" height="1" fill="#ff4500"/>
<rect x="872" y="256" width="1" height="29" fill="#32cd32"/>
<rect x="871" y="272" width="3" height="9" fill="#32cd32"/>
<rect x="876" y="274" width="1" height="27" fill="#32cd32"/>
<rect x="875" y="280" width="3" height="15" fill="#32cd32"/>
<rect x="880" y="290" width="1" height="31" fill="#32cd32"/>
<rect x="879" y="293" width="3" height="27" fill="#32cd32"/>
<rect x="884" y="316" width="1" height="27" fill="#32cd32"/>
<rect x="883" y="319" width="3" height="13" fill="#32cd32"/>
<rect x="888" y="299" width="1" height="36" fill="#ff0000"/>
<rect x="887" y="305" width="3" height="28" fill="#ff0000"/>
<rect x="888" y="306" width="1" height="26" fill="#ff4500"/>
<rect x="892" y="292" width="1" height="24" fill="#ff0000"/>
<rect x="891" y="297" width="3" height="3" fill="#ff0000"/>
<rect x="892" y="298" width="1" height="1" fill="#ff4500"/>
<rect x="896" y="285" width="1" height="32" fill="#ff0000"/>
<rect x="895" y="288" width="3" height="11" fill="#ff0000"/>
<rect x="896" y="289" width="1" height="9" fill="#ff4500"/>
<rect x="900" y="274" width="1" height="49" fill="#32cd32"/>
<rect x="899" y="288" width="3" height="29" fill="#32cd32"/>
<rect x="904" y="305" width="1" height="17" fill="#ff0000"/>
<rect x="903" y="313" width="3" height="4" fill="#ff0000"/>
<rect x="904" y="314" width="1" height="2" fill="#ff4500"/>
<rect x="908" y="293" width="1" height="30" fill="#ff0000"/>
<rect x="907" y="300" width="3" height="14" fill="#ff0000"/>
<rect x="908" y="301" width="1" height="12" fill="#ff4500"/>
<rect x="912" y="270" width="1" height="34" fill="#ff0000"/>
<rect x="911" y="272" width="3" height="29" fill="#ff0000"/>
<rect x="912" y="273" width="1" height="27" fill="#ff4500"/>
<rect x="916" y="270" width="1" height="26" fill="#32cd32"/>
<rect x="915" y="272" width="3" height="19" fill="#32cd32"/>
<rect x="920" y="282" width="1" height="20" fill="#32cd32"/>
<rect x="919" y="289" width="3" height="7" fill="#32cd32"/>
<rect x="924" y="260" width="1" height="39" fill="#ff0000"/>
<rect x="923" y="272" width="3" height="25" fill="#ff0000"/>
<rect x="924" y="273" width="1" height="23" fill="#ff4500"/></g><g clip-path="url(#cd)"><rect x="3" y="444" width="3" height="37" fill="#c0c0c0"/>
<rect x="7" y="444" width="3" height="42" fill="#c0c0c0"/>
<rect x="11" y="444" width="3" height="44" fill="#c0c0c0"/>
<rect x="15" y="444" width="3" height="43" fill="#c0c0c0"/>
<rect x="19" y="444" width="3" height="42" fill="#c0c0c0"/>
<rect x="23" y="444" width="3" height="39" fill="#c0c0c0"/>
<rect x="27" y="444" width="3" height="37" fill="#c0c0c0"/>
<rect x="31" y="444" width="3" height="36" fill="#c0c0c0"/>
<rect x="35" y="444" width="3" height="33" fill="#c0c0c0"/>
<rect x="39" y="444" width="3" height="31" fill="#c0c0c0"/>
<rect x="43" y="444" width="3" height="30" fill="#c0c0c0"/>
<rect x="47" y="444" width="3" height="28" fill="#c0c0c0"/>
<rect x="51" y="444" width="3" height="24" fill="#c0c0c0"/>
<rect x="55" y="444" width="3" height="21" fill="#c0c0c0"/>
<rect x="59" y="444" width="3" height="15" fill="#c0c0c0"/>
<rect x="63" y="444" width="3" height="8" fill="#c0c0c0"/>
<rect x="67" y="444" width="3" height="2" fill="#c0c0c0"/>
<rect x="71" y="439" width="3" height="5" fill="#c0c0c0"/>
<rect x="75" y="434" width="3" height="10" fill="#c0c0c0"/>
<rect x="79" y="429" width="3" height="15" fill="#c0c0c0"/>
<rect x="83" y="427" width="3" height="17" fill="#c0c0c0"/>
<rect x="87" y="426" width="3" height="18" fill="#c0c0c0"/>
<rect x="91" y="426" width="3" height="18" fill="#c0c0c0"/>
<rect x="95" y="426" width="3" height="18" fill="#c0c0c0"/>
<rect x="99" y="425" width="3" height="19" fill="#c0c0c0"/>
<rect x="103" y="424" width="3" height="20" fill="#c0c0c0"/>
<rect x="107" y="424" width="3" height="20" fill="#c0c0c0"/>
<rect x="111" y="425" width="3" height="19" fill="#c0c0c0"/>
<rect x="115" y="424" width="3" height="20" fill="#c0c0c0"/>
<rect x="119" y="424" width="3" height="20" fill="#c0c0c0"/>
<rect x="123" y="423" width="3" height="21" fill="#c0c0c0"/>
<rect x="127" y="423" width="3" height="21" fill="#c0c0c0"/>
<rect x="131" y="424" width="3" height="20" fill="#c0c0c0"/>
<rect x="135" y="424" width="3" height="20" fill="#c0c0c0"/>
<rect x="139" y="427" width="3" height="17" fill="#c0c0c0"/>
<rect x="143" y="429" width="3" height="15" fill="#c0c0c0"/>
<rect x="147" y="430" width="3" height="14" fill="#c0c0c0"/>
<rect x="151" y="428" width="3" height="16" fill="#c0c0c0"/>
<rect x="155" y="428" width="3" height="16" fill="#c0c0c0"/>
<rect x="159" y="431" width="3" height="13" fill="#c0c0c0"/>
<rect x="163" y="432" width="3" height="12" fill="#c0c0c0"/>
<rect x="167" y="432" width="3" height="12" fill="#c0c0c0"/>
<rect x="171" y="432" width="3" height="12" fill="#c0c0c0"/>
<rect x="175" y="430" width="3" height="14" fill="#c0c0c0"/>
<rect x="179" y="430" width="3" height="14" fill="#c0c0c0"/>
<rect x="183" y="434" width="3" height="10" fill="#c0c0c0"/>
<rect x="187" y="436" width="3" height="8" fill="#c0c0c0"/>
<rect x="191" y="438" width="3" height="6" fill="#c0c0c0"/>
<rect x="195" y="439" width="3" height="5" fill="#c0c0c0"/>
<rect x="199" y="441" width="3" height="3" fill="#c0c0c0"/>
<rect x="203" y="442" width="3" height="2" fill="#c0c0c0"/>
<rect x="207" y="441" width="3" height="3" fill="#c0c0c0"/>
<rect x="211" y="440" width="3" height="4" fill="#c0c0c0"/>
<rect x="215" y="439" width="3" height="5" fill="#c0c0c0"/>
<rect x="219" y="439" width="3" height="5" fill="#c0c0c0"/>
<rect x="223" y="439" width="3" height="5" fill="#c0c0c0"/>
<rect x="227" y="439" width="3" height="5" fill="#c0c0c0"/>
<rect x="231" y="440" width="3" height="4" fill="#c0c0c0"/>
<rect x="235" y="438" width="3" height="6" fill="#c0c0c0"/>
<rect x="239" y="438" width="3" height="6" fill="#c0c0c0"/>
<rect x="243" y="436" width="3" height="8" fill="#c0c0c0"/>
<rect x="247" y="435" width="3" height="9" fill="#c0c0c0"/>
<rect x="251" y="436" width="3" height="8" fill="#c0c0c0"/>
<rect x="255" y="438" width="3" height="6" fill="#c0c0c0"/>
<rect x="259" y="440" width="3" height="4" fill="#c0c0c0"/>
<rect x="263" y="440" width="3" height="4" fill="#c0c0c0"/>
<rect x="267" y="442" width="3" height="2" fill="#c0c0c0"/>
<rect x="271" y="444" width="3" height="1" fill="#c0c0c0"/>
<rect x="275" y="444" width="3" height="4" fill="#c0c0c0"/>
<rect x="279" y="444" width="3" height="6" fill="#c0c0c0"/>
<rect x="283" y="444" width="3" height="8" fill="#c0c0c0"/>
<rect x="287" y="444" width="3" height="11" fill="#c0c0c0"/>
<rect x="291" y="444" width="3" height="11" fill="#c0c0c0"/>
<rect x="295" y="444" width="3" height="10" fill="#c0c0c0"/>
<rect x="299" y="444" width="3" height="10" fill="#c0c0c0"/>
<rect x="303" y="444" width="3" height="10" fill="#c0c0c0"/>
<rect x="307" y="444" width="3" height="12" fill="#c0c0c0"/>
<rect x="311" y="444" width="3" height="12" fill="#c0c0c0"/>
<rect x="315" y="444" width="3" height="13" fill="#c0c0c0"/>
<rect x="319" y="444" width="3" height="15" fill="#c0c0c0"/>
<rect x="323" y="444" width="3" height="13" fill="#c0c0c0"/>
<rect x="327" y="444" width="3" height="10" fill="#c0c0c0"/>
<rect x="331" y="444" width="3" height="6" fill="#c0c0c0"/>
<rect x="335" y="444" width="3" height="2" fill="#c0c0c0"/>
<rect x="339" y="444" width="3" height="1" fill="#c0c0c0"/>
<rect x="343" y="444" width="3" height="1" fill="#c0c0c0"/>
<rect x="347" y="444" width="3" height="1" fill="#c0c0c0"/>
<rect x="351" y="444" width="3" height="1" fill="#c0c0c0"/>
<rect x="355" y="443" width="3" height="1" fill="#c0c0c0"/>
<rect x="359" y="441" width="3" height="3" fill="#c0c0c0"/>
<rect x="363" y="443" width="3" height="1" fill="#c0c0c0"/>
<rect x="367" y="444" width="3" height="4" fill="#c0c0c0"/>
<rect x="371" y="444" width="3" height="5" fill="#c0c0c0"/>
<rect x="375" y="444" width="3" height="6" fill="#c0c0c0"/>
<rect x="379" y="444" width="3" height="5" fill="#c0c0c0"/>
<rect x="383" y="444" width="3" height="6" fill="#c0c0c0"/>
<rect x="387" y="444" width="3" height="7" fill="#c0c0c0"/>
<rect x="391" y="444" width="3" height="5" fill="#c0c0c0"/>
<rect x="395" y="444" width="3" height="5" fill="#c0c0c0"/>
<rect x="399" y="444" width="3" height="8" fill="#c0c0c0"/>
<rect x="403" y="444" width="3" height="9" fill="#c0c0c0"/>
<rect x="407" y="444" width="3" height="10" fill="#c0c0c0"/>
<rect x="411" y="444" width="3" height="11" fill="#c0c0c0"/>
<rect x="415" y="444" width="3" height="19" fill="#c0c0c0"/>
<rect x="419" y="444" width="3" height="22" fill="#c0c0c0"/>
<rect x="423" y="444" width="3" height="24" fill="#c0c0c0"/>
<rect x="427" y="444" width="3" height="27" fill="#c0c0c0"/>
<rect x="431" y="444" width="3" height="29" fill="#c0c0c0"/>
<rect x="435" y="444" width="3" height="31" fill="#c0c0c0"/>
<rect x="439" y="444" width="3" height="30" fill="#c0c0c0"/>
<rect x="443" y="444" width="3" height="30" fill="#c0c0c0"/>
<rect x="447" y="444" width="3" height="27" fill="#c0c0c0"/>
<rect x="451" y="444" width="3" height="26" fill="#c0c0c0"/>
<rect x="455" y="444" width="3" height="24" fill="#c0c0c0"/>
<rect x="459" y="444" width="3" height="23" fill="#c0c0c0"/>
<rect x="463" y="444" width="3" height="22" fill="#c0c0c0"/>
<rect x="467" y="444" width="3" height="21" fill="#c0c0c0"/>
<rect x="471" y="444" width="3" height="21" fill="#c0c0c0"/>
<rect x="475" y="444" width="3" height="20" fill="#c0c0c0"/>
<rect x="479" y="444" width="3" height="19" fill="#c0c0c0"/>
<rect x="483" y="444" width="3" height="18" fill="#c0c0c0"/>
<rect x="487" y="444" width="3" height="18" fill="#c0c0c0"/>
<rect x="491" y="444" width="3" height="18" fill="#c0c0c0"/>
<rect x="495" y="444" width="3" height="17" fill="#c0c0c0"/>
<rect x="499" y="444" width="3" height="18" fill="#c0c0c0"/>
<rect x="503" y="444" width="3" height="18" fill="#c0c0c0"/>
<rect x="507" y="444" width="3" height="16" fill="#c0c0c0"/>
<rect x="511" y="444" width="3" height="15" fill="#c0c0c0"/>
<rect x="515" y="444" width="3" height="14" fill="#c0c0c0"/>
<rect x="519" y="444" width="3" height="12" fill="#c0c0c0"/>
<rect x="523" y="444" width="3" height="11" fill="#c0c0c0"/>
<rect x="527" y="444" width="3" height="9" fill="#c0c0c0"/>
<rect x="531" y="444" width="3" height="9" fill="#c0c0c0"/>
<rect x="535" y="444" width="3" height="11" fill="#c0c0c0"/>
<rect x="539" y="444" width="3" height="12" fill="#c0c0c0"/>
<rect x="543" y="444" width="3" height="13" fill="#c0c0c0"/>
<rect x="547" y="444" width="3" height="13" fill="#c0c0c0"/>
<rect x="551" y="444" width="3" height="13" fill="#c0c0c0"/>
<rect x="555" y="444" width="3" height="14" fill="#c0c0c0"/>
<rect x="559" y="444" width="3" height="17" fill="#c0c0c0"/>
<rect x="563" y="444" width="3" height="15" fill="#c0c0c0"/>
<rect x="567" y="444" width="3" height="14" fill="#c0c0c0"/>
<rect x="571" y="444" width="3" height="13" fill="#c0c0c0"/>
<rect x="575" y="444" width="3" height="12" fill="#c0c0c0"/>
<rect x="579" y="444" width="3" height="11" fill="#c0c0c0"/>
<rect x="583" y="444" width="3" height="10" fill="#c0c0c0"/>
<rect x="587" y="444" width="3" height="8" fill="#c0c0c0"/>
<rect x="591" y="444" width="3" height="7" fill="#c0c0c0"/>
<rect x="595" y="444" width="3" height="6" fill="#c0c0c0"/>
<rect x="599" y="444" width="3" height="6" fill="#c0c0c0"/>
<rect x="603" y="444" width="3" height="6" fill="#c0c0c0"/>
<rect x="607" y="444" width="3" height="6" fill="#c0c0c0"/>
<rect x="611" y="444" width="3" height="5" fill="#c0c0c0"/>
<rect x="615" y="444" width="3" height="6" fill="#c0c0c0"/>
<rect x="619" y="444" width="3" height="6" fill="#c0c0c0"/>
<rect x="623" y="444" width="3" height="5" fill="#c0c0c0"/>
<rect x="627" y="444" width="3" height="6" fill="#c0c0c0"/>
<rect x="631" y="444" width="3" height="6" fill="#c0c0c0"/>
<rect x="635" y="444" width="3" height="6" fill="#c0c0c0"/>
<rect x="639" y="444" width="3" height="5" fill="#c0c0c0"/>
<rect x="643" y="444" width="3" height="3" fill="#c0c0c0"/>
<rect x="647" y="444" width="3" height="2" fill="#c0c0c0"/>
<rect x="651" y="444" width="3" height="1" fill="#c0c0c0"/>
<rect x="655" y="444" width="3" height="1" fill="#c0c0c0"/>
<rect x="659" y="444" width="3" height="3" fill="#c0c0c0"/>
<rect x="663" y="444" width="3" height="4" fill="#c0c0c0"/>
<rect x="667" y="444" width="3" height="6" fill="#c0c0c0"/>
<rect x="671" y="444" width="3" height="8" fill="#c0c0c0"/>
<rect x="675" y="444" width="3" height="8" fill="#c0c0c0"/>
<rect x="679" y="444" width="3" height="9" fill="#c0c0c0"/>
<rect x="683" y="444" width="3" height="10" fill="#c0c0c0"/>
<rect x="687" y="444" width="3" height="12" fill="#c0c0c0"/>
<rect x="691" y="444" width="3" height="14" fill="#c0c0c0"/>
<rect x="695" y="444" width="3" height="16" fill="#c0c0c0"/>
<rect x="699" y="444" width="3" height="17" fill="#c0c0c0"/>
<rect x="703" y="444" width="3" height="13" fill="#c0c0c0"/>
<rect x="707" y="444" width="3" height="10" fill="#c0c0c0"/>
<rect x="711" y="444" width="3" height="7" fill="#c0c0c0"/>
<rect x="715" y="444" width="3" height="6" fill="#c0c0c0"/>
<rect x="719" y="444" width="3" height="5" fill="#c0c0c0"/>
<rect x="723" y="444" width="3" height="6" fill="#c0c0c0"/>
<rect x="727" y="444" width="3" height="5" fill="#c0c0c0"/>
<rect x="731" y="444" width="3" height="4" fill="#c0c0c0"/>
<rect x="735" y="444" width="3" height="3" fill="#c0c0c0"/>
<rect x="739" y="444" width="3" height="3" fill="#c0c0c0"/>
<rect x="743" y="444" width="3" height="2" fill="#c0c0c0"/>
<rect x="747" y="444" width="3" height="1" fill="#c0c0c0"/>
<rect x="751" y="444" width="3" height="2" fill="#c0c0c0"/>
<rect x="755" y="444" width="3" height="5" fill="#c0c0c0"/>
<rect x="759" y="444" width="3" height="7" fill="#c0c0c0"/>
<rect x="763" y="444" width="3" height="9" fill="#c0c0c0"/>
<rect x="767" y="444" width="3" height="12" fill="#c0c0c0"/>
<rect x="771" y="444" width="3" height="13" fill="#c0c0c0"/>
<rect x="775" y="444" width="3" height="15" fill="#c0c0c0"/>
<rect x="779" y="444" width="3" height="17" fill="#c0c0c0"/>
<rect x="783" y="444" width="3" height="17" fill="#c0c0c0"/>
<rect x="787" y="444" width="3" height="19" fill="#c0c0c0"/>
<rect x="791" y="444" width="3" height="20" fill="#c0c0c0"/>
<rect x="795" y="444" width="3" height="20" fill="#c0c0c0"/>
<rect x="799" y="444" width="3" height="19" fill="#c0c0c0"/>
<rect x="803" y="444" width="3" height="18" fill="#c0c0c0"/>
<rect x="807" y="444" width="3" height="16" fill="#c0c0c0"/>
<rect x="811" y="444" width="3" height="16" fill="#c0c0c0"/>
<rect x="815" y="444" width="3" height="15" fill="#c0c0c0"/>
<rect x="819" y="444" width="3" height="14" fill="#c0c0c0"/>
<rect x="823" y="444" width="3" height="13" fill="#c0c0c0"/>
<rect x="827" y="444" width="3" height="8" fill="#c0c0c0"/>
<rect x="831" y="443" width="3" height="1" fill="#c0c0c0"/>
<rect x="835" y="438" width="3" height="6" fill="#c0c0c0"/>
<rect x="839" y="436" width="3" height="8" fill="#c0c0c0"/>
<rect x="843" y="435" width="3" height="9" fill="#c0c0c0"/>
<rect x="847" y="433" width="3" height="11" fill="#c0c0c0"/>
<rect x="851" y="432" width="3" height="12" fill="#c0c0c0"/>
<rect x="855" y="431" width="3" height="13" fill="#c0c0c0"/>
<rect x="859" y="428" width="3" height="16" fill="#c0c0c0"/>
<rect x="863" y="427" width="3" height="17" fill="#c0c0c0"/>
<rect x="867" y="427" width="3" height="17" fill="#c0c0c0"/>
<rect x="871" y="426" width="3" height="18" fill="#c0c0c0"/>
<rect x="875" y="427" width="3" height="17" fill="#c0c0c0"/>
<rect x="879" y="430" width="3" height="14" fill="#c0c0c0"/>
<rect x="883" y="433" width="3" height="11" fill="#c0c0c0"/>
<rect x="887" y="434" width="3" height="10" fill="#c0c0c0"/>
<rect x="891" y="434" width="3" height="10" fill="#c0c0c0"/>
<rect x="895" y="434" width="3" height="10" fill="#c0c0c0"/>
<rect x="899" y="435" width="3" height="9" fill="#c0c0c0"/>
<rect x="903" y="437" width="3" height="7" fill="#c0c0c0"/>
<rect x="907" y="437" width="3" height="7" fill="#c0c0c0"/>
<rect x="911" y="435" width="3" height="9" fill="#c0c0c0"/>
<rect x="915" y="435" width="3" height="9" fill="#c0c0c0"/>
<rect x="919" y="435" width="3" height="9" fill="#c0c0c0"/>
<rect x="923" y="434" width="3" height="10" fill="#c0c0c0"/>
<polyline points="4,475.45 8,476.65 12,478.13 16,479.58 20,480.91 24,481.86 28,482.54 32,482.93 36,482.82 40,482.18 44,480.93 48,479.18 52,477.07 56,474.74 60,472.05 64,468.8 68,465.06 72,461 76,456.5 80,451.59 84,446.68 88,442.12 92,437.85 96,434.25 100,431.33 104,428.98 108,427.27 112,426.29 116,425.74 120,425.47 124,425.09 128,424.74 132,424.54 136,424.45 140,424.76 144,425.32 148,425.84 152,426.28 156,426.7 160,427.57 164,428.54 168,429.46 172,430.35 176,430.74 180,430.84 184,431.28 188,432.11 192,433.18 196,434.14 200,435.17 204,436.32 208,437.35 212,438.41 216,439.37 220,439.94 224,440.28 228,440.44 232,440.47 236,440.16 240,439.64 244,439.01 248,438.41 252,438.11 256,438.05 260,438.18 264,438.28 268,438.59 272,439.25 276,440.24 280,441.68 284,443.49 288,445.46 292,447.25 296,448.74 300,450.17 304,451.37 308,452.55 312,453.53 316,454.39 320,455.2 324,455.49 328,455.32 332,454.81 336,453.95 340,452.92 344,451.74 348,450.44 352,449.07 356,447.4 360,445.73 364,444.67 368,444.51 372,444.82 376,445.35 380,445.84 384,446.39 388,447 392,447.6 396,448.35 400,449.18 404,449.71 408,450.28 412,450.91 416,452.4 420,454.23 424,456.2 428,458.59 432,461.28 436,463.83 440,466.16 444,468.33 448,470.03 452,470.8 456,470.99 460,470.87 464,470.34 468,469.4 472,468.26 476,467.19 480,465.95 484,464.95 488,464.11 492,463.49 496,462.81 500,462.33 504,461.99 508,461.49 512,460.89 516,460.34 520,459.7 524,458.92 528,457.92 532,457.06 536,456.34 540,455.76 544,455.42 548,455.22 552,455.14 556,455.37 560,456 564,456.65 568,457.18 572,457.39 576,457.38 580,457.17 584,456.82 588,456.27 592,455.45 596,454.27 600,453.26 604,452.32 608,451.47 612,450.7 616,450.06 620,449.62 624,449.34 628,449.31 632,449.31 636,449.26 640,449.2 644,448.88 648,448.48 652,448.02 656,447.5 660,447.23 664,447.02 668,447.02 672,447.3 676,447.63 680,448.36 684,449.32 688,450.5 692,451.94 696,453.4 700,454.79 704,455.58 708,455.81 712,455.72 716,455.3 720,454.73 724,454.05 728,453 732,451.69 736,450.16 740,448.97 744,448.07 748,447.38 752,446.98 756,446.9 760,447.06 764,447.53 768,448.34 772,449.45 776,450.77 780,452.41 784,454.21 788,456.1 792,457.8 796,459.17 800,460.22 804,460.93 808,461.31 812,461.41 816,461.2 820,460.84 824,460.2 828,458.88 832,456.7 836,454.05 840,451.3 844,448.57 848,445.76 852,442.88 856,439.94 860,436.83 864,434.2 868,432.4 872,431.13 876,430.14 880,429.61 884,429.61 888,429.84 892,430.23 896,430.84 900,431.74 904,432.85 908,434.01 912,434.86 916,435.41 920,435.65 924,435.67" fill="none" stroke="#ff0000" stroke-width="1"/></g><g clip-path="url(#cr)"><line x1="5" y1="515.5" x2="1166" y2="515.5" stroke="#c0c0c0" stroke-width="1" stroke-dasharray="3,3"/>
<line x1="5" y1="544.5" x2="1166" y2="544.5" stroke="#c0c0c0" stroke-width="1" stroke-dasharray="3,3"/>
<polyline points="4,545.7 8,548 12,546 16,542.2 20,540.9 24,537 28,538.9 32,538.9 36,535.1 40,537.9 44,537.9 48,535.8 52,532.1 56,531.8 60,524.8 64,521.9 68,520.9 72,519.9 76,517.9 80,517.9 84,520.4 88,523.2 92,523.9 96,522.9 100,521.9 104,520.9 108,520.9 112,524.8 116,520.9 120,521.9 124,518.9 128,521.4 132,523.4 136,522.9 140,528.8 144,528.8 148,526.3 152,520.9 156,523.4 160,529.8 164,527.8 168,527.8 172,525.8 176,517.9 180,526.8 184,532.8 188,531.8 192,531.8 196,531.8 200,531.8 204,532.8 208,527.8 212,526.8 216,525.8 220,528.8 224,528.8 228,529.8 232,525.8 236,523.63 240,526.54 244,522.54 248,522.79 252,530 256,532.97 260,532.55 264,528.7 268,534.5 272,533.28 276,536.52 280,536.98 284,537.78 288,540.64 292,535.91 296,531.78 300,532.85 304,534.78 308,537.4 312,536.92 316,538.42 320,540.46 324,531.24 328,526.8 332,524.12 336,523.54 340,527.74 344,530.29 348,529.57 352,531.26 356,527.75 360,525.4 364,533.94 368,537.86 372,532.68 376,533.09 380,530.83 384,532.49 388,533.83 392,529.79 396,530.92 400,537.08 404,534.83 408,535.24 412,536.48 416,545.26 420,540.39 424,540.06 428,541.48 432,542.23 436,542.42 440,537.73 444,538.77 448,533.32 452,535.95 456,534.31 460,536.22 464,535.51 468,534.6 472,536.85 476,537.13 480,533.16 484,534.88 488,537.39 492,537.39 496,534.54 500,538.23 504,536.68 508,532.72 512,533.75 516,532.48 520,531.21 524,532.81 528,529.74 532,534.25 536,538.58 540,537.42 544,537.18 548,536.16 552,535.64 556,539.13 560,543.43 564,532.1 568,533.54 572,532.95 576,533.13 580,532.26 584,531.37 588,528.75 592,529.22 596,531.77 600,532.68 604,532.14 608,532.4 612,532.67 616,533.79 620,535.45 624,531.37 628,536.19 632,532.99 636,531.17 640,531.75 644,523.81 648,528.41 652,529.22 656,530.33 660,536.35 664,536.05 668,538.62 672,540.02 676,534.39 680,537.57 684,538.94 688,540.63 692,543.51 696,543.98 700,541.18 704,527.51 708,526.57 712,526.38 716,527.63 720,531.85 724,534.15 728,529.73 732,530.41 736,528.15 740,529.86 744,529.14 748,527.91 752,532.74 756,538.5 760,540.32 764,539.17 768,541.66 772,540.15 776,541.35 780,544.04 784,539.71 788,542.57 792,542.27 796,539.17 800,536.81 804,537.43 808,534.43 812,535.58 816,536.5 820,536.16 824,534.76 828,520.8 832,513.95 836,517.68 840,524.72 844,524.43 848,522.84 852,522.69 856,521.78 860,518.67 864,521.85 868,521.55 872,521.39 876,525.03 880,530.6 884,532.93 888,527.81 892,526.4 896,524.83 900,530.63 904,530.05 908,527.57 912,522.96 916,526.74 920,527.75 924,523.99" fill="none" stroke="#1e90ff" stroke-width="1"/></g></svg>
<div style="position:absolute;left:3px;top:24px;width:1164px;height:393px;border:1px solid #000;box-sizing:border-box"></div>
<div style="position:absolute;left:3px;top:418px;width:1164px;height:73px;border:1px solid #000;box-sizing:border-box"></div>
<div style="position:absolute;left:3px;top:492px;width:1164px;height:75px;border:1px solid #000;box-sizing:border-box"></div>
<div style="position:absolute;left:1166px;top:50px;width:3px;height:1px;background:#000;"></div>
<div class="t" style="left:1172px;top:46.53px;font-size:10px;color:#000;letter-spacing:-0.5px;">6.52370</div>
<div style="position:absolute;left:1166px;top:83px;width:3px;height:1px;background:#000;"></div>
<div class="t" style="left:1172px;top:79.53px;font-size:10px;color:#000;letter-spacing:-0.5px;">6.50330</div>
<div style="position:absolute;left:1166px;top:116px;width:3px;height:1px;background:#000;"></div>
<div class="t" style="left:1172px;top:112.53px;font-size:10px;color:#000;letter-spacing:-0.5px;">6.48350</div>
<div style="position:absolute;left:1166px;top:149px;width:3px;height:1px;background:#000;"></div>
<div class="t" style="left:1172px;top:145.53px;font-size:10px;color:#000;letter-spacing:-0.5px;">6.46310</div>
<div style="position:absolute;left:1166px;top:182px;width:3px;height:1px;background:#000;"></div>
<div class="t" style="left:1172px;top:178.53px;font-size:10px;color:#000;letter-spacing:-0.5px;">6.44270</div>
<div style="position:absolute;left:1166px;top:215px;width:3px;height:1px;background:#000;"></div>
<div class="t" style="left:1172px;top:211.53px;font-size:10px;color:#000;letter-spacing:-0.5px;">6.42230</div>
<div style="position:absolute;left:1166px;top:248px;width:3px;height:1px;background:#000;"></div>
<div class="t" style="left:1172px;top:244.53px;font-size:10px;color:#000;letter-spacing:-0.5px;">6.40190</div>
<div style="position:absolute;left:1166px;top:281px;width:3px;height:1px;background:#000;"></div>
<div class="t" style="left:1172px;top:277.54px;font-size:10px;color:#000;letter-spacing:-0.5px;">6.38210</div>
<div style="position:absolute;left:1166px;top:314px;width:3px;height:1px;background:#000;"></div>
<div class="t" style="left:1172px;top:310.54px;font-size:10px;color:#000;letter-spacing:-0.5px;">6.36170</div>
<div style="position:absolute;left:1166px;top:347px;width:3px;height:1px;background:#000;"></div>
<div class="t" style="left:1172px;top:343.54px;font-size:10px;color:#000;letter-spacing:-0.5px;">6.34130</div>
<div style="position:absolute;left:1166px;top:380px;width:3px;height:1px;background:#000;"></div>
<div class="t" style="left:1172px;top:376.54px;font-size:10px;color:#000;letter-spacing:-0.5px;">6.32090</div>
<div style="position:absolute;left:1166px;top:413px;width:3px;height:1px;background:#000;"></div>
<div class="t" style="left:1172px;top:409.54px;font-size:10px;color:#000;letter-spacing:-0.5px;">6.30110</div>
<div style="position:absolute;left:1168px;top:156px;width:41px;height:11px;background:#ff0000;"></div>
<div class="t" style="left:1172px;top:157.53px;font-size:10px;color:#fff;letter-spacing:-0.5px;">6.45528</div>
<div style="position:absolute;left:1168px;top:228px;width:41px;height:11px;background:#ff0000;"></div>
<div class="t" style="left:1172px;top:229.53px;font-size:10px;color:#fff;letter-spacing:-0.5px;">6.41045</div>
<div style="position:absolute;left:1168px;top:267px;width:41px;height:11px;background:#000000;"></div>
<div class="t" style="left:1172px;top:268.54px;font-size:10px;color:#fff;letter-spacing:-0.5px;">6.38712</div>
<div style="position:absolute;left:1168px;top:302px;width:41px;height:11px;background:#00ff00;"></div>
<div class="t" style="left:1172px;top:303.54px;font-size:10px;color:#fff;letter-spacing:-0.5px;">6.36501</div>
<div style="position:absolute;left:1168px;top:376px;width:41px;height:11px;background:#0000ff;"></div>
<div class="t" style="left:1172px;top:377.54px;font-size:10px;color:#fff;letter-spacing:-0.5px;">6.32018</div>
<div style="position:absolute;left:1166px;top:420px;width:2px;height:1px;background:#000;"></div>
<div style="position:absolute;left:1166px;top:444px;width:2px;height:1px;background:#000;"></div>
<div style="position:absolute;left:1166px;top:489px;width:2px;height:1px;background:#000;"></div>
<div class="t" style="left:1170px;top:421.54px;font-size:10px;color:#000;letter-spacing:-0.5px;">0.016586</div>
<div class="t" style="left:1170px;top:440.54px;font-size:10px;color:#000;letter-spacing:-0.5px;">0.00</div>
<div class="t" style="left:1170px;top:479.54px;font-size:10px;color:#000;letter-spacing:-0.5px;">-0.031421</div>
<div style="position:absolute;left:1166px;top:494px;width:2px;height:1px;background:#000;"></div>
<div class="t" style="left:1170px;top:495.54px;font-size:10px;color:#000;letter-spacing:-0.5px;">100</div>
<div class="t" style="left:1170px;top:511.54px;font-size:10px;color:#000;letter-spacing:-0.5px;">70</div>
<div class="t" style="left:1170px;top:540.53px;font-size:10px;color:#000;letter-spacing:-0.5px;">30</div>
<div class="t" style="left:1170px;top:555.53px;font-size:10px;color:#000;letter-spacing:-0.5px;">0</div>
<div style="position:absolute;left:4px;top:566px;width:1px;height:4px;background:#000;"></div>
<div class="t" style="left:3px;top:571.53px;font-size:10px;color:#000;letter-spacing:-0.27px;">27 May 2021</div>
<div style="position:absolute;left:68px;top:566px;width:1px;height:4px;background:#000;"></div>
<div class="t" style="left:66.7px;top:571.53px;font-size:10px;color:#000;letter-spacing:-0.56px;">18 Jun 2021</div>
<div style="position:absolute;left:132px;top:566px;width:1px;height:4px;background:#000;"></div>
<div class="t" style="left:130.2px;top:571.53px;font-size:10px;color:#000;letter-spacing:-0.37px;">12 Jul 2021</div>
<div style="position:absolute;left:196px;top:566px;width:1px;height:4px;background:#000;"></div>
<div class="t" style="left:194.2px;top:571.53px;font-size:10px;color:#000;letter-spacing:-0.21px;">3 Aug 2021</div>
<div style="position:absolute;left:260px;top:566px;width:1px;height:4px;background:#000;"></div>
<div class="t" style="left:259.3px;top:571.53px;font-size:10px;color:#000;letter-spacing:-0.39px;">25 Aug 2021</div>
<div style="position:absolute;left:324px;top:566px;width:1px;height:4px;background:#000;"></div>
<div class="t" style="left:322.3px;top:571.53px;font-size:10px;color:#000;letter-spacing:-0.33px;">16 Sep 2021</div>
<div style="position:absolute;left:388px;top:566px;width:1px;height:4px;background:#000;"></div>
<div class="t" style="left:386.9px;top:571.53px;font-size:10px;color:#000;letter-spacing:-0.26px;">8 Oct 2021</div>
<div style="position:absolute;left:452px;top:566px;width:1px;height:4px;background:#000;"></div>
<div class="t" style="left:450.4px;top:571.53px;font-size:10px;color:#000;letter-spacing:-0.23px;">1 Nov 2021</div>
<div style="position:absolute;left:516px;top:566px;width:1px;height:4px;background:#000;"></div>
<div class="t" style="left:515.2px;top:571.53px;font-size:10px;color:#000;letter-spacing:-0.28px;">23 Nov 2021</div>
<div style="position:absolute;left:580px;top:566px;width:1px;height:4px;background:#000;"></div>
<div class="t" style="left:578.6px;top:571.53px;font-size:10px;color:#000;letter-spacing:-0.43px;">15 Dec 2021</div>
<div style="position:absolute;left:644px;top:566px;width:1px;height:4px;background:#000;"></div>
<div class="t" style="left:643.1px;top:571.53px;font-size:10px;color:#000;letter-spacing:-0.49px;">6 Jan 2022</div>
<div style="position:absolute;left:708px;top:566px;width:1px;height:4px;background:#000;"></div>
<div class="t" style="left:707.2px;top:571.53px;font-size:10px;color:#000;letter-spacing:-0.58px;">28 Jan 2022</div>
<div style="position:absolute;left:772px;top:566px;width:1px;height:4px;background:#000;"></div>
<div class="t" style="left:771.2px;top:571.53px;font-size:10px;color:#000;letter-spacing:-0.44px;">21 Feb 2022</div>
<div style="position:absolute;left:836px;top:566px;width:1px;height:4px;background:#000;"></div>
<div class="t" style="left:834.2px;top:571.53px;font-size:10px;color:#000;letter-spacing:-0.38px;">15 Mar 2022</div>
<div style="position:absolute;left:900px;top:566px;width:1px;height:4px;background:#000;"></div>
<div class="t" style="left:898.8px;top:571.53px;font-size:10px;color:#000;letter-spacing:-0.28px;">6 Apr 2022</div>
<svg style="position:absolute;left:7px;top:31px" width="8" height="5"><path d="M0 4.5 L3.5 0.5 L7 4.5 Z" fill="#000"/></svg>
<div class="t" style="left:18.2px;top:28.54px;font-size:10px;color:#000;letter-spacing:-0.14px;">USDCNH-,Daily</div>
<div class="t" style="left:93.8px;top:28.54px;font-size:10px;color:#000;letter-spacing:-0.36px;">6.37286 6.39463 6.37087 6.38712</div>
<div class="t" style="left:7.3px;top:423.54px;font-size:10px;color:#000;letter-spacing:-0.33px;">MACD(12,26,9) 0.006552 0.005921</div>
<div class="t" style="left:7.2px;top:497.54px;font-size:10px;color:#000;letter-spacing:-0.31px;">RSI(14) 58.5704</div>
<div style="position:absolute;left:1px;top:587px;width:1209px;height:1px;background:#e3e3e3;"></div>
<div style="position:absolute;left:0px;top:589px;width:1210px;height:1px;background:#000;"></div>
<div style="position:absolute;left:0px;top:590px;width:1210px;height:19px;background:#f0f0f0;"></div>
<div style="position:absolute;left:0px;top:590px;width:1px;height:18px;background:#696969;"></div>
<div style="position:absolute;left:0px;top:609px;width:1210px;height:1px;background:#fafafa;"></div>
<div style="position:absolute;left:0px;top:610px;width:1210px;height:3px;background:#f0f0f0;"></div>
<div class="t" style="left:15.4px;top:593.67px;font-size:12.2px;color:#6d6d6d;letter-spacing:0.12px;">USDX,Weekly</div>
<div class="t" style="left:115.6px;top:593.67px;font-size:12.2px;color:#6d6d6d;letter-spacing:-0.11px;">EURUSD-,Daily</div>
<div class="t" style="left:223px;top:593.67px;font-size:12.2px;color:#6d6d6d;letter-spacing:0.07px;">AUDUSD-,Daily</div>
<div class="t" style="left:332.7px;top:593.67px;font-size:12.2px;color:#6d6d6d;letter-spacing:-0.1px;">USDCHF-,Daily</div>
<div class="t" style="left:439.4px;top:593.67px;font-size:12.2px;color:#6d6d6d;letter-spacing:0.03px;">USDCAD-,Daily</div>
<div class="t" style="left:659.3px;top:593.67px;font-size:12.2px;color:#6d6d6d;letter-spacing:0.12px;">XAUUSD-,Daily</div>
<div class="t" style="left:767.4px;top:593.67px;font-size:12.2px;color:#6d6d6d;letter-spacing:0.39px;">UKOil-,H1</div>
<div class="t" style="left:848.5px;top:593.67px;font-size:12.2px;color:#6d6d6d;letter-spacing:0.12px;">DJ30-,Daily</div>
<div class="t" style="left:935.6px;top:593.67px;font-size:12.2px;color:#6d6d6d;letter-spacing:0.15px;">UK100-,H1</div>
<div class="t" style="left:1020.4px;top:593.67px;font-size:12.2px;color:#6d6d6d;letter-spacing:0.25px;">USOil-,H1</div>
<div class="t" style="left:1098.9px;top:593.67px;font-size:12.2px;color:#6d6d6d;letter-spacing:0.24px;">HK50-,H1</div>
<div style="position:absolute;left:105px;top:592px;width:1px;height:14px;background:#555;"></div>
<div style="position:absolute;left:213px;top:592px;width:1px;height:14px;background:#555;"></div>
<div style="position:absolute;left:321px;top:592px;width:1px;height:14px;background:#555;"></div>
<div style="position:absolute;left:429px;top:592px;width:1px;height:14px;background:#555;"></div>
<div style="position:absolute;left:757px;top:592px;width:1px;height:14px;background:#555;"></div>
<div style="position:absolute;left:837px;top:592px;width:1px;height:14px;background:#555;"></div>
<div style="position:absolute;left:925px;top:592px;width:1px;height:14px;background:#555;"></div>
<div style="position:absolute;left:1009px;top:592px;width:1px;height:14px;background:#555;"></div>
<div style="position:absolute;left:1089px;top:592px;width:1px;height:14px;background:#555;"></div>
<div style="position:absolute;left:1165px;top:592px;width:1px;height:14px;background:#555;"></div>
<div style="position:absolute;left:537px;top:589px;width:112px;height:19px;background:#fff;border:1px solid #000;border-top:none;box-sizing:border-box"></div>
<div class="t" style="left:548.5px;top:593.67px;font-size:12.2px;color:#000;letter-spacing:0.2px;">USDCNH-,Daily</div>
<svg style="position:absolute;left:1181px;top:595px" width="26" height="8"><path d="M4 0 L0 3.5 L4 7 Z" fill="#a0a0a0"/><path d="M20 0 L24 3.5 L20 7 Z" fill="#000"/></svg>
<div style="position:absolute;left:7px;top:68px;width:109px;height:33px;background:linear-gradient(#da3434,#b00404);border-style:solid;border-color:#b00000;border-width:1px 1px 1px 1px;box-sizing:border-box"></div>
<div style="position:absolute;left:7px;top:44px;width:52px;height:25px;background:linear-gradient(#f85a5a,#e03434);border-style:solid;border-color:#b00000;border-width:1px 1px 0 1px;box-sizing:border-box"></div>
<div style="position:absolute;left:11px;top:67px;width:45px;height:1px;background:#8a0000;"></div>
<div style="position:absolute;left:11px;top:68px;width:45px;height:1px;background:#f07272;"></div>
<div style="position:absolute;left:118px;top:68px;width:108px;height:33px;background:linear-gradient(#da3434,#b00404);border-style:solid;border-color:#b00000;border-width:1px 1px 1px 1px;box-sizing:border-box"></div>
<div style="position:absolute;left:174px;top:44px;width:52px;height:25px;background:linear-gradient(#f85a5a,#e03434);border-style:solid;border-color:#b00000;border-width:1px 1px 0 1px;box-sizing:border-box"></div>
<div style="position:absolute;left:178px;top:67px;width:44px;height:1px;background:#8a0000;"></div>
<div style="position:absolute;left:178px;top:68px;width:44px;height:1px;background:#f07272;"></div>
<div style="position:absolute;left:61px;top:44px;width:111px;height:22px;background:#fff;border:1px solid #a9adb5;box-sizing:border-box"></div>
<div style="position:absolute;left:63px;top:46px;width:18px;height:18px;background:linear-gradient(#f2f2f2 0,#ececec 5px,#dcdcdc 6px,#d6d6d6 100%)"></div>
<div style="position:absolute;left:152px;top:46px;width:18px;height:18px;background:linear-gradient(#f2f2f2 0,#ececec 5px,#dcdcdc 6px,#d6d6d6 100%)"></div>
<div style="position:absolute;left:82px;top:45px;width:1px;height:20px;background:#a9adb5;"></div>
<div style="position:absolute;left:150px;top:45px;width:1px;height:20px;background:#a9adb5;"></div>
<svg style="position:absolute;left:69px;top:53px" width="5" height="3"><path d="M0 0 H5 L2.5 3 Z" fill="#4a63c8"/></svg>
<svg style="position:absolute;left:158px;top:53px" width="5" height="3"><path d="M0 3 H5 L2.5 0 Z" fill="#4a63c8"/></svg>
<div class="t" style="left:123.5px;top:48.84px;font-size:12px;color:#000;letter-spacing:-0.2px;">0.50</div>
<div class="t" style="left:19.5px;top:49.84px;font-size:12px;color:#fff;letter-spacing:-0.9px;">SELL</div>
<div class="t" style="left:187.5px;top:49.84px;font-size:12px;color:#fff;letter-spacing:-0.6px;">BUY</div>
<div class="t" style="left:26.5px;top:86.62px;font-size:12.5px;color:#fff;letter-spacing:0.2px;font-weight:bold;">6.38</div>
<div class="t" style="left:137px;top:86.62px;font-size:12.5px;color:#fff;letter-spacing:0.2px;font-weight:bold;">6.39</div>
<div class="t" style="left:52.5px;top:66.97px;font-size:35px;color:#fff;letter-spacing:-0.6px;">71</div>
<div class="t" style="left:164.5px;top:66.97px;font-size:35px;color:#fff;letter-spacing:-0.6px;">16</div>
<div class="t" style="left:93.5px;top:69.84px;font-size:12px;color:#fff;letter-spacing:0px;font-weight:bold;">2</div>
<div class="t" style="left:205px;top:69.84px;font-size:12px;color:#fff;letter-spacing:0px;font-weight:bold;">3</div>
</body></html>
